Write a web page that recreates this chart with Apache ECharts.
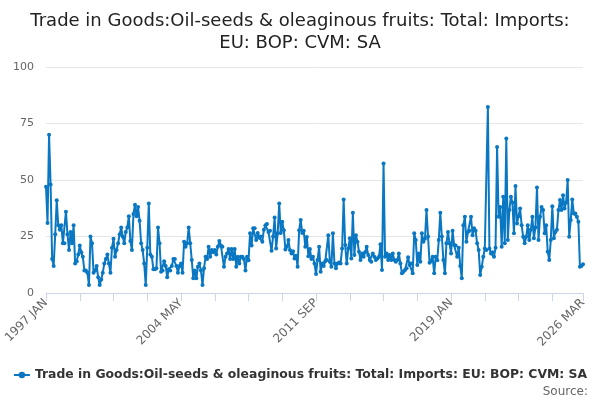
<!DOCTYPE html>
<html>
<head>
<meta charset="utf-8">
<script src="https://cdn.jsdelivr.net/npm/echarts@6/dist/echarts.min.js"></script>
<style>
  html, body { margin: 0; padding: 0; background: #fff; }
  #chart { width: 600px; height: 400px; }
</style>
</head>
<body>
<div id="chart"></div>
<script>
const titleText = 'Trade in Goods:Oil-seeds & oleaginous fruits: Total: Imports:\nEU: BOP: CVM: SA';
const seriesName = 'Trade in Goods:Oil-seeds & oleaginous fruits: Total: Imports: EU: BOP: CVM: SA';
const monthNames = ['JAN', 'FEB', 'MAR', 'APR', 'MAY', 'JUN', 'JUL', 'AUG', 'SEP', 'OCT', 'NOV', 'DEC'];
const startYear = 1997;
const yTicks = [0, 25, 50, 75, 100];

// monthly values, 1997 JAN .. 2026 MAR
const imports = [
    47, 31, 70, 48, 15, 12, 26, 41, 30, 28, 30, 22, 22, 36, 26, 19, 27, 22, 30, 13,
    14, 17, 21, 18, 16, 10, 10, 9, 3.5, 25, 22, 9, 10, 12, 7, 3.5, 6, 9, 13, 15,
    17, 13, 9, 20, 24, 16, 19, 22, 26, 29, 25, 22, 27, 29, 34, 23, 19, 35, 39, 34,
    38, 32, 22, 19, 13, 3.5, 20, 39.6, 17, 16, 10.5, 10.5, 11, 29, 22, 9.4, 10, 14, 12, 7,
    10.5, 10, 12, 15, 15, 12, 9, 12, 13, 9, 22.7, 20.5, 22, 29, 22, 14.6, 6.5, 10, 6.5, 11.6,
    13, 10, 3.5, 11, 16, 15, 20.5, 16, 19, 18, 19, 17, 20.5, 23, 21, 20.5, 11.6, 16, 17.5, 19.5,
    15, 19.5, 15, 19.5, 11.6, 16, 13, 16, 16, 15, 10, 16, 14.5, 26.4, 21, 28.6, 28.6, 23.4, 26.6, 24.4,
    25, 22.7, 28, 30, 30.5, 27, 27.5, 18.7, 25, 33.4, 19.7, 26.4, 39.6, 26.6, 31.5, 27.8, 19.3, 20.5, 23.4, 19,
    17.5, 18.5, 15.3, 16.5, 11.6, 27.8, 32.3, 26.6, 27.5, 20.5, 24.8, 16.3, 19.5, 15, 16, 13, 8.4, 14.6, 20.5, 9.4,
    13, 12, 14, 14.6, 25.6, 13.8, 11.6, 26.4, 13, 11, 13, 13.5, 13, 19.7, 41.4, 21.2, 13, 19.7, 24.2, 15.3,
    35.5, 16.8, 25.6, 22.7, 18.3, 14.6, 17.5, 16, 18, 20.5, 16.8, 14.6, 13.8, 17.5, 16, 14.6, 15.3, 16, 21.6, 10.2,
    57.3, 16, 17.5, 14.6, 16.8, 14.6, 17.5, 14.6, 13.8, 14.6, 17.5, 13, 8.7, 9.4, 10.2, 11, 15.8, 12.4, 13, 8.7,
    26.4, 23.4, 12.4, 17.5, 13.8, 26.4, 22.7, 24, 36.7, 25, 13.4, 14, 16, 8.7, 16, 14.5, 23.4, 35.5, 25, 14.6,
    8.7, 22, 27, 22, 17.5, 27.5, 21.2, 21, 16, 20, 12, 6.5, 30, 33.7, 22.7, 27, 27.5, 33.7, 25.6, 28.6,
    27.5, 22, 19, 8, 11.6, 16, 19.7, 19, 82.3, 19.7, 17.5, 18, 16, 20, 64.6, 33.7, 38.1, 20.5, 42.6, 22,
    68.4, 23.4, 36.7, 42.6, 40, 26.4, 47.3, 30.8, 34, 37.4, 30, 24.9, 22, 24.9, 30, 23.4, 28, 33.7, 24.2, 29,
    46.7, 23.4, 33.7, 38.1, 36.7, 26.4, 30, 18.3, 14.6, 23.4, 38.4, 24.2, 27, 28, 36.7, 41.1, 36.7, 43.3, 37.4, 40,
    50, 24.9, 32.3, 41.4, 35.2, 35.2, 33.7, 31.5, 11.6, 12, 12.7
];

const months = imports.map(function (v, i) {
    return (startYear + Math.floor(i / 12)) + ' ' + monthNames[i % 12];
});
const lastIdx = months.length - 1;

const chart = echarts.init(document.getElementById('chart'));
const font = 'DejaVu Sans';

chart.setOption({
    animation: false,
    title: {
        text: titleText,
        left: 'center',
        top: 5,
        textStyle: {
            fontFamily: font,
            fontSize: 18,
            fontWeight: 'normal',
            color: '#222',
            lineHeight: 22
        }
    },
    legend: {
        top: 364,
        left: 'center',
        itemWidth: 16,
        itemHeight: 8,
        itemGap: 6,
        textStyle: { fontFamily: font, fontSize: 12.4, fontWeight: 'bold', color: '#333' },
        data: [seriesName]
    },
    graphic: [{
        type: 'text',
        right: 12,
        top: 386,
        style: { text: 'Source:', fontFamily: font, fontSize: 12, fill: '#666' }
    }],
    grid: { left: 46, right: 17, top: 67, bottom: 107 },
    xAxis: {
        type: 'category',
        boundaryGap: false,
        data: months,
        axisLine: { lineStyle: { color: '#ccd6eb' } },
        axisTick: {
            length: 8,
            lineStyle: { color: '#ccd6eb' },
            interval: function (idx) { return idx % 22 === 0 || idx === lastIdx; }
        },
        axisLabel: {
            rotate: 45,
            color: '#666',
            fontFamily: font,
            fontSize: 12,
            margin: 8,
            interval: function (idx) { return idx % 88 === 0 || idx === lastIdx; }
        }
    },
    yAxis: {
        type: 'value',
        min: yTicks[0],
        max: yTicks[yTicks.length - 1],
        interval: 25,
        axisLine: { show: false },
        axisTick: { show: false },
        axisLabel: { color: '#666', fontFamily: font, fontSize: 11, margin: 12 },
        splitLine: { lineStyle: { color: '#e6e6e6' } }
    },
    series: [{
        name: seriesName,
        type: 'line',
        data: imports,
        color: '#0a77c2',
        symbol: 'circle',
        symbolSize: 4,
        showAllSymbol: true,
        lineStyle: { width: 2 }
    }]
});
</script>
</body>
</html>
